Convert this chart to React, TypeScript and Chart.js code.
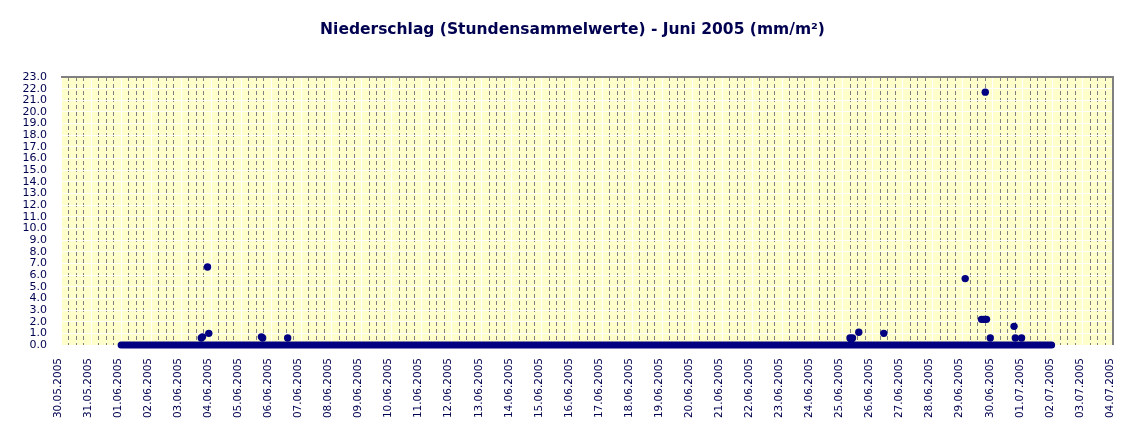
import React, { useEffect, useRef } from 'react';
import { Chart, registerables } from 'chart.js';

Chart.register(...registerables);

// ---- data ----
const chartTitle = 'Niederschlag (Stundensammelwerte) - Juni 2005 (mm/m²)';
const axisOrigin = '30.05.2005 00:00';
const dateLabels = [
  '30.05.2005', '31.05.2005', '01.06.2005', '02.06.2005', '03.06.2005', '04.06.2005',
  '05.06.2005', '06.06.2005', '07.06.2005', '08.06.2005', '09.06.2005', '10.06.2005',
  '11.06.2005', '12.06.2005', '13.06.2005', '14.06.2005', '15.06.2005', '16.06.2005',
  '17.06.2005', '18.06.2005', '19.06.2005', '20.06.2005', '21.06.2005', '22.06.2005',
  '23.06.2005', '24.06.2005', '25.06.2005', '26.06.2005', '27.06.2005', '28.06.2005',
  '29.06.2005', '30.06.2005', '01.07.2005', '02.07.2005', '03.07.2005', '04.07.2005',
];
const yMax = 23;

// hourly readings of 0.0 mm over the whole period
const zeroPeriodStart = '01.06.2005 00:00';
const zeroPeriodEnd = '01.07.2005 23:00';

// hours with precipitation
const rainTimes = [
  '03.06.2005 16:00', '03.06.2005 17:00', '03.06.2005 21:00', '03.06.2005 22:00',
  '05.06.2005 16:00', '05.06.2005 17:00', '06.06.2005 13:00',
  '25.06.2005 06:00', '25.06.2005 07:00', '25.06.2005 08:00', '25.06.2005 13:00',
  '26.06.2005 09:00', '29.06.2005 02:00', '29.06.2005 15:00', '29.06.2005 17:00',
  '29.06.2005 18:00', '29.06.2005 19:00', '29.06.2005 22:00',
  '30.06.2005 17:00', '30.06.2005 18:00', '30.06.2005 23:00',
];
const rainValues = [
  0.6, 0.7, 6.7, 1.0,
  0.7, 0.6, 0.6,
  0.6, 0.5, 0.6, 1.1,
  1.0, 5.7, 2.2, 2.2,
  21.7, 2.2, 0.6,
  1.6, 0.6, 0.6,
];

// ---- helpers ----
function toMs(s: string): number {
  const [d, t] = s.split(' ');
  const [dd, mm, yy] = d.split('.').map(Number);
  const [hh, mi] = t.split(':').map(Number);
  return Date.UTC(yy, mm - 1, dd, hh, mi);
}
function toDay(s: string): number {
  return (toMs(s) - toMs(axisOrigin)) / 86400000;
}

const NAVY = '#000080';
const TEXT = '#000050';

const plotFrame = {
  id: 'plotFrame',
  beforeDraw(chart: any) {
    const { ctx, chartArea } = chart;
    ctx.save();
    ctx.fillStyle = '#FFFFCC';
    ctx.fillRect(chartArea.left, chartArea.top, chartArea.right - chartArea.left, chartArea.bottom - chartArea.top);
    ctx.restore();
  },
  beforeDatasetsDraw(chart: any) {
    const { ctx, chartArea } = chart;
    ctx.save();
    ctx.strokeStyle = '#808080';
    ctx.lineWidth = 2;
    ctx.beginPath();
    ctx.moveTo(chartArea.left, chartArea.top);
    ctx.lineTo(chartArea.right, chartArea.top);
    ctx.lineTo(chartArea.right, chartArea.bottom);
    ctx.stroke();
    ctx.restore();
  },
};

export default function App() {
  const ref = useRef<HTMLCanvasElement | null>(null);

  useEffect(() => {
    if (!ref.current) return;
    const rainPoints = rainTimes.map((t, i) => ({ x: toDay(t), y: rainValues[i] }));
    const zeroLine = [
      { x: toDay(zeroPeriodStart), y: 0 },
      { x: toDay(zeroPeriodEnd), y: 0 },
    ];
    const xMax = dateLabels.length - 1;

    const chart = new Chart(ref.current, {
      type: 'scatter',
      data: {
        datasets: [
          {
            type: 'line',
            label: 'Niederschlag 0.0',
            data: zeroLine,
            borderColor: NAVY,
            borderWidth: 7,
            borderCapStyle: 'round',
            pointRadius: 0,
            clip: false,
            order: 2,
          } as any,
          {
            type: 'scatter',
            label: 'Niederschlag',
            data: rainPoints,
            backgroundColor: NAVY,
            borderColor: NAVY,
            borderWidth: 0,
            pointRadius: 3.7,
            pointStyle: 'circle',
            clip: false,
            order: 1,
          } as any,
        ],
      },
      options: {
        animation: false,
        responsive: false,
        maintainAspectRatio: false,
        layout: { padding: 0 },
        plugins: {
          legend: { display: false },
          tooltip: { enabled: false },
          title: {
            display: true,
            text: chartTitle,
            color: TEXT,
            font: { family: 'DejaVu Sans', size: 15.5, weight: 'bold' },
            padding: { top: 21, bottom: 37.4 },
          },
        },
        scales: {
          x: {
            type: 'linear',
            position: 'bottom',
            min: 0,
            max: xMax,
            afterFit: (s: any) => { s.height = 92; },
            grid: { color: '#FFFFFF', lineWidth: 1, drawTicks: false },
            border: { display: false },
            ticks: {
              stepSize: 1,
              autoSkip: false,
              maxRotation: 90,
              minRotation: 90,
              padding: 13,
              labelOffset: -3,
              color: TEXT,
              font: { family: 'DejaVu Sans', size: 10.5 },
              callback: (v: any) => {
                const i = Math.round(Number(v));
                return Math.abs(Number(v) - i) < 1e-6 ? dateLabels[i] : '';
              },
            },
          },
          x2: {
            type: 'linear',
            position: 'top',
            min: 0,
            max: xMax,
            afterFit: (s: any) => { s.height = 0; },
            grid: {
              drawTicks: false,
              lineWidth: 1,
              color: (c: any) => {
                const v = c.tick ? c.tick.value : 0;
                return Math.abs(v - Math.round(v)) < 1e-6 ? 'rgba(0,0,0,0)' : '#808080';
              },
            },
            border: { display: false, dash: [4, 3] },
            ticks: { display: false, stepSize: 0.25, autoSkip: false },
          },
          y: {
            type: 'linear',
            position: 'left',
            min: 0,
            max: yMax,
            afterFit: (s: any) => { s.width = 61; },
            grid: { color: '#FFFFFF', lineWidth: 1, drawTicks: false },
            border: { display: false },
            ticks: {
              stepSize: 1,
              autoSkip: false,
              padding: 14,
              color: TEXT,
              font: { family: 'DejaVu Sans', size: 11 },
              callback: (v: any) => Number(v).toFixed(1),
            },
          },
          y2: {
            type: 'linear',
            position: 'right',
            min: 0,
            max: yMax,
            afterFit: (s: any) => { s.width = 32; },
            grid: { display: false, drawTicks: false },
            border: { display: false },
            ticks: { display: false },
          },
        },
      } as any,
      plugins: [plotFrame],
    });
    return () => chart.destroy();
  }, []);

  return (
    <div style={{ position: 'fixed', left: 0, top: 0, width: 1145, height: 437, background: '#FFFFFF' }}>
      <canvas ref={ref} width={1145} height={437} style={{ display: 'block', width: 1145, height: 437 }} />
    </div>
  );
}
